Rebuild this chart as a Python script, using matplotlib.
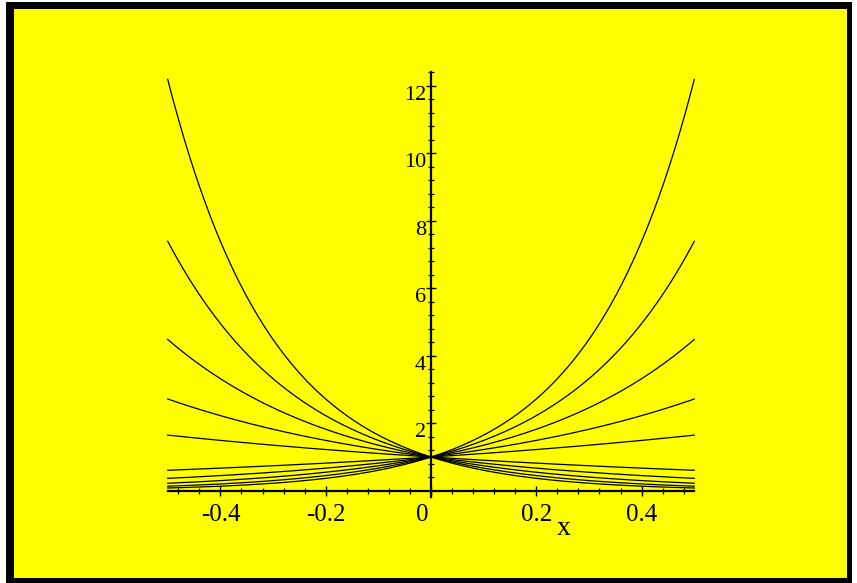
import numpy as np
import matplotlib
matplotlib.use("Agg")
import matplotlib.pyplot as plt
import matplotlib.transforms as mtransforms
from matplotlib.patches import Rectangle
from matplotlib.ticker import MultipleLocator, FixedLocator, FixedFormatter

# Family of curves y = exp(k*x), read as growth rates from the picture
rates = [-5, -4, -3, -2, -1, 1, 2, 3, 4, 5]
x_range = (-0.5, 0.5)
x_ticks = [-0.4, -0.2, 0.0, 0.2, 0.4]
x_tick_labels = ["-0.4", "-0.2", "0", "0.2", "0.4"]
y_ticks = [2, 4, 6, 8, 10, 12]
y_tick_labels = ["2", "4", "6", "8", "10", "12"]

W, H = 857, 583
fig = plt.figure(figsize=(W / 100, H / 100), dpi=100)
fig.patch.set_facecolor("white")

def px_rect(x0, y0, x1, y1, color):
    # pixel coords with y measured from top
    fig.patches.append(Rectangle((x0 / W, 1 - y1 / H), (x1 - x0) / W, (y1 - y0) / H,
                                 transform=fig.transFigure, facecolor=color,
                                 edgecolor="none", zorder=-10))

px_rect(6, 2, 852, 583, "black")
px_rect(14, 9, 847, 577.7, "#FFFF00")

# axes placement: x -0.5..0.5 -> px 167.75..694.25; y -0.3..12.5 -> px 500.9..68.8
ax = fig.add_axes([167.75 / W, 1 - 500.9 / H, 526.5 / W, (500.9 - 68.8) / H])
ax.set_facecolor("none")
ax.set_xlim(*x_range)
ax.set_ylim(-0.3, 12.5)

xs = np.linspace(x_range[0], x_range[1], 400)
for k in rates:
    ax.plot(xs, np.exp(k * xs), color="black", lw=0.9, clip_on=False)

for s in ["top", "right"]:
    ax.spines[s].set_visible(False)
ax.spines["left"].set_position(("data", 0))
ax.spines["bottom"].set_position(("data", 0))
ax.spines["left"].set_bounds(-0.18, 12.4)
ax.spines["bottom"].set_bounds(-0.5, 0.5)
for s in ["left", "bottom"]:
    ax.spines[s].set_linewidth(1.6)

ax.xaxis.set_major_locator(FixedLocator(x_ticks))
ax.xaxis.set_major_formatter(FixedFormatter(x_tick_labels))
ax.xaxis.set_minor_locator(MultipleLocator(0.04))
ax.yaxis.set_major_locator(FixedLocator(y_ticks))
ax.yaxis.set_major_formatter(FixedFormatter(y_tick_labels))
ax.yaxis.set_minor_locator(MultipleLocator(0.4))

serif = ["Liberation Serif", "DejaVu Serif"]
ax.tick_params(which="major", direction="inout", length=7, width=1.0, colors="black")
ax.tick_params(which="minor", direction="inout", length=4, width=0.9, colors="black")
ax.tick_params(axis="x", which="major", pad=6)
ax.tick_params(axis="y", which="major", pad=0)
for lab in ax.get_xticklabels():
    lab.set_fontfamily(serif)
    lab.set_fontsize(18)
for lab in ax.get_yticklabels():
    lab.set_fontfamily(serif)
    lab.set_fontsize(16)
    lab.set_va("top")
# Maple shifts the "0" label left of the vertical axis
xl = ax.get_xticklabels()
xl[2].set_transform(xl[2].get_transform() + mtransforms.ScaledTranslation(-9 / 100, 0, fig.dpi_scale_trans))

ax.text(0.2526, -1.13, "x", fontfamily=serif, fontsize=20,
        ha="center", va="center", clip_on=False)

fig.savefig("out.png", dpi=100, facecolor=fig.get_facecolor())
